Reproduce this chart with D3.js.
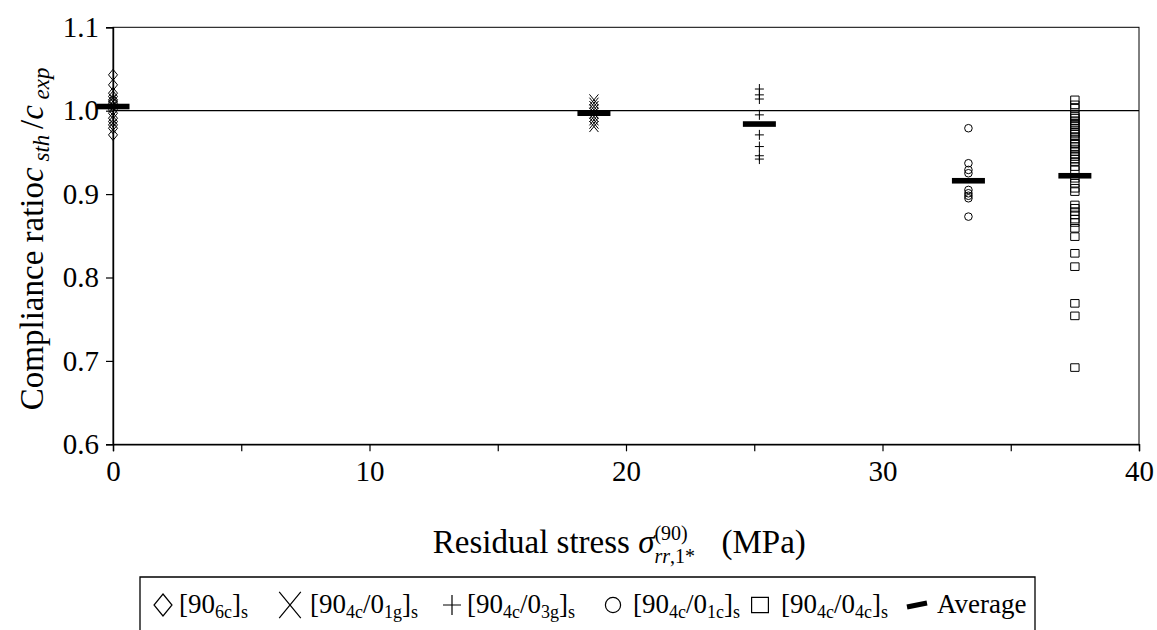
<!DOCTYPE html>
<html>
<head>
<meta charset="utf-8">
<script src="https://cdn.jsdelivr.net/npm/d3@7"></script>
<style>
  body { margin: 0; background: #fff; }
  text { font-family: "Liberation Serif", "Times New Roman", serif; fill: #000; }
</style>
</head>
<body>
<svg id="chart" width="1157" height="630"></svg>
<script>
// ---- data -------------------------------------------------------------
const xTicks = [0, 5, 10, 15, 20, 25, 30, 35, 40];
const xTickLabels = [0, 10, 20, 30, 40];
const yTicks = [0.6, 0.7, 0.8, 0.9, 1.0, 1.1];

// residual stress of each lay-up (MPa)
const stress = [0, 18.75, 25.2, 33.35, 37.5];

// compliance ratio c_sth / c_exp of each specimen
const ratio6c = [1.043, 1.031, 1.021, 1.017, 1.013, 1.011, 1.009, 1.005, 1.001, 0.997,
                 0.991, 0.987, 0.983, 0.979, 0.971];
const ratio4c1g = [1.013, 1.009, 1.005, 1.001, 0.997, 0.993, 0.989, 0.985, 0.981];
const ratio4c3g = [1.026, 1.019, 1.014, 0.995, 0.971, 0.957, 0.946, 0.942];
const ratio4c1c = [0.979, 0.937, 0.929, 0.925, 0.905, 0.901, 0.898, 0.895, 0.873];
const ratio4c4c = [1.013, 1.007, 1.003, 0.996, 0.993, 0.991, 0.988, 0.985, 0.983, 0.981,
                   0.977, 0.974, 0.972, 0.969, 0.966, 0.961, 0.960, 0.957, 0.954, 0.951,
                   0.947, 0.945, 0.942, 0.939, 0.933, 0.929, 0.919, 0.913, 0.907, 0.903,
                   0.887, 0.883, 0.879, 0.875, 0.870, 0.866, 0.859, 0.849, 0.829, 0.813,
                   0.769, 0.754, 0.692];

// mean ratio per lay-up
const averages = [1.005, 0.997, 0.984, 0.916, 0.922];

const shapes = ["diamond", "cross", "plus", "circle", "square"];
const seriesValues = [ratio6c, ratio4c1g, ratio4c3g, ratio4c1c, ratio4c4c];

// legend labels: [text, "sub" | ""]
const legendLabels = [
  [["[90", ""], ["6c", "sub"], ["]", ""], ["s", "sub"]],
  [["[90", ""], ["4c", "sub"], ["/0", ""], ["1g", "sub"], ["]", ""], ["s", "sub"]],
  [["[90", ""], ["4c", "sub"], ["/0", ""], ["3g", "sub"], ["]", ""], ["s", "sub"]],
  [["[90", ""], ["4c", "sub"], ["/0", ""], ["1c", "sub"], ["]", ""], ["s", "sub"]],
  [["[90", ""], ["4c", "sub"], ["/0", ""], ["4c", "sub"], ["]", ""], ["s", "sub"]],
  [["Average", ""]]
];

// ---- layout -----------------------------------------------------------
const FONT = "'Liberation Serif', 'Times New Roman', serif";
const svg = d3.select("#chart").attr("font-family", FONT);
const plot = { left: 113, right: 1139, top: 27.3, bottom: 444.3 };

const x = d3.scaleLinear().domain([0, 40]).range([plot.left, plot.right]);
const y = d3.scaleLinear().domain([0.6, 1.1]).range([plot.bottom, plot.top]);

// marker path generators (centred on 0,0)
function markerPath(shape, s) {
  const p = d3.path();
  if (shape === "diamond") {
    const w = s * 0.45, h = s * 0.55;
    p.moveTo(0, -h); p.lineTo(w, 0); p.lineTo(0, h); p.lineTo(-w, 0); p.closePath();
  } else if (shape === "cross") {
    const w = s * 0.45, h = s * 0.55;
    p.moveTo(-w, -h); p.lineTo(w, h); p.moveTo(w, -h); p.lineTo(-w, h);
  } else if (shape === "plus") {
    const w = s * 0.45, h = s * 0.5;
    p.moveTo(-w, 0); p.lineTo(w, 0); p.moveTo(0, -h); p.lineTo(0, h);
  } else if (shape === "circle") {
    p.arc(0, 0, s * 0.38, 0, 2 * Math.PI);
  } else if (shape === "square") {
    const w = s * 0.42, h = s * 0.38;
    p.rect(-w, -h, 2 * w, 2 * h);
  }
  return p.toString();
}

// ---- frame & reference line --------------------------------------------
svg.append("rect")
  .attr("x", x(0)).attr("y", y(1.1))
  .attr("width", x(40) - x(0)).attr("height", y(0.6) - y(1.1))
  .attr("fill", "none").attr("stroke", "#000").attr("stroke-width", 1);

svg.append("line")
  .attr("x1", x(0)).attr("x2", x(40))
  .attr("y1", y(1.0)).attr("y2", y(1.0))
  .attr("stroke", "#000").attr("stroke-width", 1.2);

// ---- axes --------------------------------------------------------------
const yAxis = d3.axisLeft(y).tickValues(yTicks).tickSize(7).tickPadding(7)
  .tickFormat(d3.format(".1f"));
const gy = svg.append("g").attr("transform", `translate(${x(0)},0)`).call(yAxis);

const xAxis = d3.axisBottom(x).tickValues(xTicks).tickSize(7).tickPadding(9)
  .tickFormat(d => xTickLabels.includes(d) ? d : "");
const gx = svg.append("g").attr("transform", `translate(0,${y(0.6)})`).call(xAxis);

[gx, gy].forEach(g => {
  g.attr("font-family", FONT).attr("font-size", 29);
  g.select(".domain").attr("stroke", "#000").attr("stroke-width", 1.4);
  g.selectAll(".tick line").attr("stroke", "#000").attr("stroke-width", 1.2);
  g.selectAll(".tick text").attr("fill", "#000");
});

// ---- data points ----------------------------------------------------------
seriesValues.forEach((vals, i) => {
  svg.append("g")
    .selectAll("path")
    .data(vals)
    .join("path")
    .attr("transform", d => `translate(${x(stress[i])},${y(d)})`)
    .attr("d", markerPath(shapes[i], 10))
    .attr("fill", "none")
    .attr("stroke", "#000")
    .attr("stroke-width", 1);
});

// average bars
svg.append("g")
  .selectAll("rect")
  .data(averages)
  .join("rect")
  .attr("x", (d, i) => x(stress[i]) - 16.5)
  .attr("y", d => y(d) - 2.8)
  .attr("width", 33)
  .attr("height", 5.6)
  .attr("fill", "#000");

// ---- axis titles -----------------------------------------------------------
const yTitle = svg.append("text")
  .attr("transform", `translate(43,${(plot.top + plot.bottom) / 2 + 3}) rotate(-90)`)
  .attr("text-anchor", "middle")
  .attr("font-size", 33);
yTitle.append("tspan").text("Compliance ratio");
yTitle.append("tspan").attr("font-style", "italic").text("c");
yTitle.append("tspan").attr("font-style", "italic").attr("font-size", 23).attr("dy", 6).text(" sth ");
yTitle.append("tspan").attr("dy", -6).text("/");
yTitle.append("tspan").attr("font-style", "italic").text("c");
yTitle.append("tspan").attr("font-style", "italic").attr("font-size", 23).attr("dy", 6).text(" exp");

// x title: Residual stress σ^(90)_{rr,1*} (MPa)
const xTitleY = 553;
const xTitle = svg.append("text").attr("y", xTitleY).attr("font-size", 33);
xTitle.append("tspan").text("Residual stress ");
xTitle.append("tspan").attr("font-style", "italic").text("\u03C3");
const sup = xTitle.append("tspan").attr("font-size", 20).attr("dy", -13).text("(90)");
const supW = sup.node().getComputedTextLength();
const sub = xTitle.append("tspan").attr("font-size", 20).attr("dy", 23).attr("dx", -supW);
sub.append("tspan").attr("font-style", "italic").text("rr");
sub.append("tspan").text(",1*");
const subW = sub.node().getComputedTextLength();
xTitle.append("tspan").attr("dy", -10).attr("dx", Math.max(0, supW - subW) + 10)
  .text("\u2002(MPa)");
const xtw = xTitle.node().getComputedTextLength();
xTitle.attr("x", (plot.left + plot.right) / 2 - xtw / 2 + 5);

// ---- legend ---------------------------------------------------------------
const legend = svg.append("g");
const legTop = 577, legBase = 613, legLeft = 140, legRight = 1035;
legend.append("path")
  .attr("d", `M${legLeft},631 V${legTop} H${legRight} V631`)
  .attr("fill", "none").attr("stroke", "#000").attr("stroke-width", 1.3);

const legendSymbolX = [163, 290, 452, 613, 760, 917];
const legendTextX = [179, 310, 467, 633, 781, 937];
const legendShapeSize = 20;

legendLabels.forEach((parts, i) => {
  const cx = legendSymbolX[i], cy = legBase - 8;
  if (i < shapes.length) {
    legend.append("path")
      .attr("transform", `translate(${cx},${cy})`)
      .attr("d", markerPath(shapes[i], i === 1 ? 24 : legendShapeSize))
      .attr("fill", "none").attr("stroke", "#000").attr("stroke-width", 1.2);
  } else {
    legend.append("line")
      .attr("x1", cx - 10).attr("x2", cx + 10)
      .attr("y1", cy + 2).attr("y2", cy - 2)
      .attr("stroke", "#000").attr("stroke-width", 5);
  }
  const t = legend.append("text").attr("x", legendTextX[i]).attr("y", legBase)
    .attr("font-size", 27);
  let shifted = false;
  parts.forEach(([s, kind]) => {
    const ts = t.append("tspan").text(s);
    if (kind === "sub" && !shifted) { ts.attr("font-size", 18).attr("dy", 5); shifted = true; }
    else if (kind === "sub") { ts.attr("font-size", 18); }
    else if (shifted) { ts.attr("dy", -5); shifted = false; }
  });
});
</script>
</body>
</html>
